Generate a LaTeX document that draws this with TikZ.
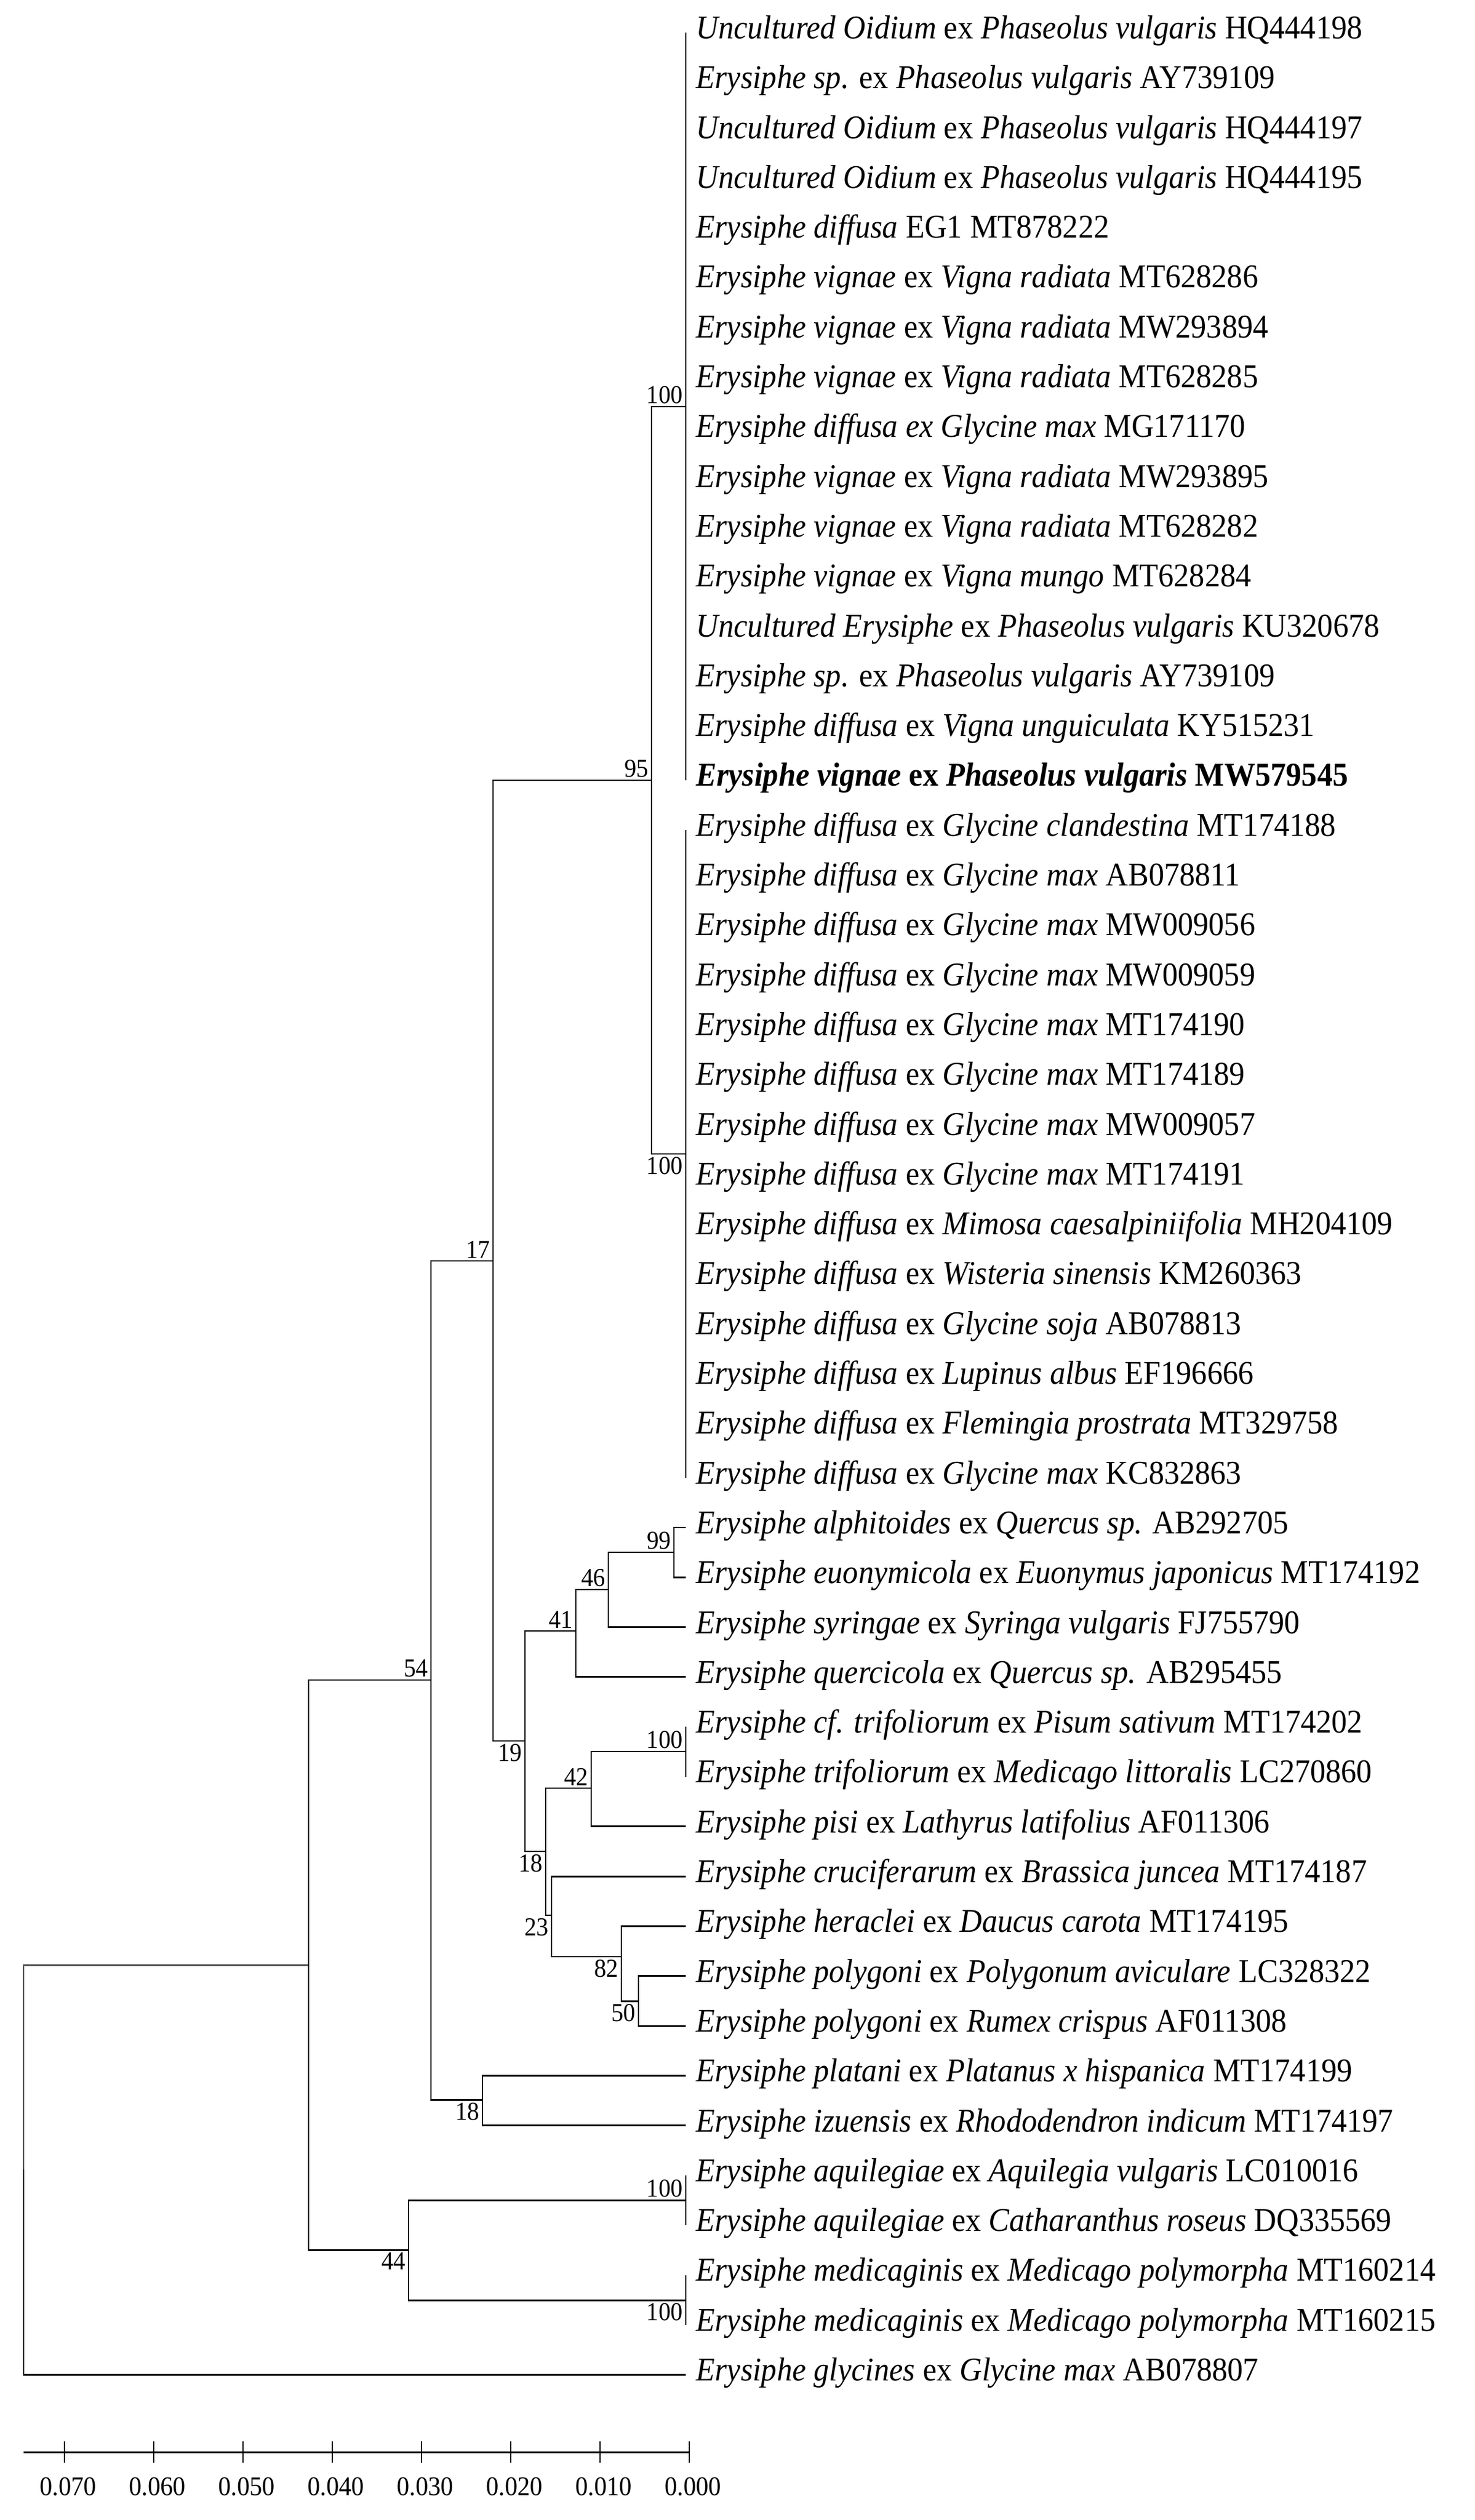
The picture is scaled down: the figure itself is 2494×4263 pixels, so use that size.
\documentclass[tikz,border=0pt]{standalone}
\usepackage{fontspec}
\setmainfont[FakeStretch=0.93]{Liberation Serif}
\begin{document}
\begin{tikzpicture}[x=0.24pt,y=-0.24pt,
  leaf/.style={anchor=west,inner xsep=4pt,inner ysep=0pt,text height=0.7em,text depth=0.2em,font=\fontsize{13.5}{15}\selectfont},
  bs/.style={inner sep=1pt,font=\fontsize{10.5}{12}\selectfont},
  up/.style={bs,anchor=south east},
  dn/.style={bs,anchor=north east},
  br/.style={line width=0.7pt},
  tick/.style={font=\fontsize{11}{12}\selectfont}]
\useasboundingbox (0,0) rectangle (2494,4263);
\newcommand{\ly}[1]{55+(#1-1)*84.3}
\foreach \i/\t in {
1/{\textit{Uncultured Oidium} ex \textit{Phaseolus vulgaris} HQ444198},
2/{\textit{Erysiphe sp.} ex \textit{Phaseolus vulgaris} AY739109},
3/{\textit{Uncultured Oidium} ex \textit{Phaseolus vulgaris} HQ444197},
4/{\textit{Uncultured Oidium} ex \textit{Phaseolus vulgaris} HQ444195},
5/{\textit{Erysiphe diffusa} EG1 MT878222},
6/{\textit{Erysiphe vignae} ex \textit{Vigna radiata} MT628286},
7/{\textit{Erysiphe vignae} ex \textit{Vigna radiata} MW293894},
8/{\textit{Erysiphe vignae} ex \textit{Vigna radiata} MT628285},
9/{\textit{Erysiphe diffusa ex Glycine max} MG171170},
10/{\textit{Erysiphe vignae} ex \textit{Vigna radiata} MW293895},
11/{\textit{Erysiphe vignae} ex \textit{Vigna radiata} MT628282},
12/{\textit{Erysiphe vignae} ex \textit{Vigna mungo} MT628284},
13/{\textit{Uncultured Erysiphe} ex \textit{Phaseolus vulgaris} KU320678},
14/{\textit{Erysiphe sp.} ex \textit{Phaseolus vulgaris} AY739109},
15/{\textit{Erysiphe diffusa} ex \textit{Vigna unguiculata} KY515231},
16/{\textbf{\textit{Erysiphe vignae} ex \textit{Phaseolus vulgaris} MW579545}},
17/{\textit{Erysiphe diffusa} ex \textit{Glycine clandestina} MT174188},
18/{\textit{Erysiphe diffusa} ex \textit{Glycine max} AB078811},
19/{\textit{Erysiphe diffusa} ex \textit{Glycine max} MW009056},
20/{\textit{Erysiphe diffusa} ex \textit{Glycine max} MW009059},
21/{\textit{Erysiphe diffusa} ex \textit{Glycine max} MT174190},
22/{\textit{Erysiphe diffusa} ex \textit{Glycine max} MT174189},
23/{\textit{Erysiphe diffusa} ex \textit{Glycine max} MW009057},
24/{\textit{Erysiphe diffusa} ex \textit{Glycine max} MT174191},
25/{\textit{Erysiphe diffusa} ex \textit{Mimosa caesalpiniifolia} MH204109},
26/{\textit{Erysiphe diffusa} ex \textit{Wisteria sinensis} KM260363},
27/{\textit{Erysiphe diffusa} ex \textit{Glycine soja} AB078813},
28/{\textit{Erysiphe diffusa} ex \textit{Lupinus albus} EF196666},
29/{\textit{Erysiphe diffusa} ex \textit{Flemingia prostrata} MT329758},
30/{\textit{Erysiphe diffusa} ex \textit{Glycine max} KC832863},
31/{\textit{Erysiphe alphitoides} ex \textit{Quercus sp.} AB292705},
32/{\textit{Erysiphe euonymicola} ex \textit{Euonymus japonicus} MT174192},
33/{\textit{Erysiphe syringae} ex \textit{Syringa vulgaris} FJ755790},
34/{\textit{Erysiphe quercicola} ex \textit{Quercus sp.} AB295455},
35/{\textit{Erysiphe cf. trifoliorum} ex \textit{Pisum sativum} MT174202},
36/{\textit{Erysiphe trifoliorum} ex \textit{Medicago littoralis} LC270860},
37/{\textit{Erysiphe pisi} ex \textit{Lathyrus latifolius} AF011306},
38/{\textit{Erysiphe cruciferarum} ex \textit{Brassica juncea} MT174187},
39/{\textit{Erysiphe heraclei} ex \textit{Daucus carota} MT174195},
40/{\textit{Erysiphe polygoni} ex \textit{Polygonum aviculare} LC328322},
41/{\textit{Erysiphe polygoni} ex \textit{Rumex crispus} AF011308},
42/{\textit{Erysiphe platani} ex \textit{Platanus x hispanica} MT174199},
43/{\textit{Erysiphe izuensis} ex \textit{Rhododendron indicum} MT174197},
44/{\textit{Erysiphe aquilegiae} ex \textit{Aquilegia vulgaris} LC010016},
45/{\textit{Erysiphe aquilegiae} ex \textit{Catharanthus roseus} DQ335569},
46/{\textit{Erysiphe medicaginis} ex \textit{Medicago polymorpha} MT160214},
47/{\textit{Erysiphe medicaginis} ex \textit{Medicago polymorpha} MT160215},
48/{\textit{Erysiphe glycines} ex \textit{Glycine max} AB078807}}
  \node[leaf] (l\i) at (1160,{\ly{\i}}) {\t};
% internal nodes
\coordinate (c1) at (1160,688);
\coordinate (c2) at (1160,1952);
\coordinate (n95) at (1102,1320);
\coordinate (n17) at (834,2133);
\coordinate (n19) at (888,2945);
\coordinate (n41) at (974,2759);
\coordinate (n46) at (1029,2689);
\coordinate (n99) at (1140,2626);
\coordinate (n18a) at (923,3132);
\coordinate (n42) at (1000,3025);
\coordinate (n100t) at (1160,2963);
\coordinate (n23) at (933,3240);
\coordinate (n82) at (1051,3310);
\coordinate (n50) at (1080,3385);
\coordinate (n54) at (729,2842);
\coordinate (n18b) at (816,3552);
\coordinate (n44) at (691,3806);
\coordinate (n100a) at (1160,3722);
\coordinate (n100m) at (1160,3891);
\coordinate (nA) at (522,3324);
\coordinate (root) at (40,3670);
\begin{scope}[br]
\foreach \i in {1,...,16} \draw (c1) |- (l\i.west);
\foreach \i in {17,...,30} \draw (c2) |- (l\i.west);
\draw (n95) |- (c1); \draw (n95) |- (c2);
\draw (n17) |- (n95); \draw (n17) |- (n19);
\draw (n19) |- (n41); \draw (n19) |- (n18a);
\draw (n41) |- (n46); \draw (n41) |- (l34.west);
\draw (n46) |- (n99); \draw (n46) |- (l33.west);
\draw (n99) |- (l31.west); \draw (n99) |- (l32.west);
\draw (n18a) |- (n42); \draw (n18a) |- (n23);
\draw (n42) |- (n100t); \draw (n42) |- (l37.west);
\draw (n100t) |- (l35.west); \draw (n100t) |- (l36.west);
\draw (n23) |- (l38.west); \draw (n23) |- (n82);
\draw (n82) |- (l39.west); \draw (n82) |- (n50);
\draw (n50) |- (l40.west); \draw (n50) |- (l41.west);
\draw (n54) |- (n17); \draw (n54) |- (n18b);
\draw (n18b) |- (l42.west); \draw (n18b) |- (l43.west);
\draw (n44) |- (n100a); \draw (n44) |- (n100m);
\draw (n100a) |- (l44.west); \draw (n100a) |- (l45.west);
\draw (n100m) |- (l46.west); \draw (n100m) |- (l47.west);
\draw (nA) |- (n54); \draw (nA) |- (n44);
\draw[black!70] (root) |- (nA);
\draw (root) |- (l48.west);
\end{scope}
% bootstrap labels
\node[up] (b1) at (c1) {100};
\node[dn] (b2) at (c2) {100};
\node[up] (b95) at (n95) {95};
\node[up] (b17) at (n17) {17};
\node[up] (b54) at (n54) {54};
\node[dn] (b19) at (n19) {19};
\node[up] (b41) at (n41) {41};
\node[up] (b46) at (n46) {46};
\node[up] (b99) at (n99) {99};
\node[dn] (b18a) at (n18a) {18};
\node[up] (b42) at (n42) {42};
\node[up] (b100t) at (n100t) {100};
\node[dn] (b23) at (n23) {23};
\node[dn] (b82) at (n82) {82};
\node[dn] (b50) at (n50) {50};
\node[dn] (b18b) at (n18b) {18};
\node[dn] (b44) at (n44) {44};
\node[up] (b100a) at (n100a) {100};
\node[dn] (b100m) at (n100m) {100};
% scale bar
\coordinate (s0) at (40,4148);
\coordinate (s1) at (1166,4148);
\draw[br] (s0) -- (s1);
\foreach \k in {0,...,7} {
  \draw[line width=0.5pt] ({1166-\k*151},4130) -- ({1166-\k*151},4166);
  \node[tick] (t\k) at ({1166-\k*151+6},4207) {0.0\ifnum\k=0 00\else\k0\fi};
}
\end{tikzpicture}
\end{document}
